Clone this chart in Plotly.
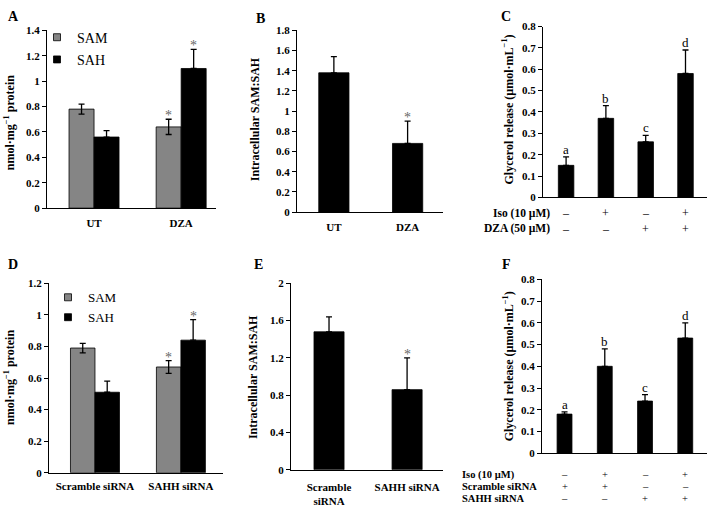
import plotly.graph_objects as go

W, H = 708, 510
SERIF = "Liberation Serif"

# ---------------- data ----------------
a_groups = ["UT", "DZA"]
a_sam = [0.78, 0.64]
a_sam_err = [0.04, 0.06]
a_sah = [0.56, 1.10]
a_sah_err = [0.05, 0.15]
a_star_sam = ["", "*"]
a_star_sah = ["", "*"]

b_groups = ["UT", "DZA"]
b_ratio = [1.38, 0.68]
b_err = [0.16, 0.22]
b_star = ["", "*"]

c_groups = ["g1", "g2", "g3", "g4"]
c_vals = [0.15, 0.37, 0.26, 0.58]
c_err = [0.04, 0.06, 0.03, 0.11]
c_letters = ["a", "b", "c", "d"]
c_iso = ["–", "+", "–", "+"]
c_dza = ["–", "–", "+", "+"]

d_groups = ["Scramble siRNA", "SAHH siRNA"]
d_sam = [0.79, 0.67]
d_sam_err = [0.03, 0.04]
d_sah = [0.51, 0.84]
d_sah_err = [0.07, 0.13]
d_star_sam = ["", "*"]
d_star_sah = ["", "*"]

e_groups = ["Scramble<br>siRNA", "SAHH siRNA"]
e_ratio = [1.48, 0.86]
e_err = [0.16, 0.34]
e_star = ["", "*"]

f_groups = ["g1", "g2", "g3", "g4"]
f_vals = [0.18, 0.40, 0.24, 0.53]
f_err = [0.01, 0.08, 0.03, 0.07]
f_letters = ["a", "b", "c", "d"]
f_iso = ["–", "+", "–", "+"]
f_scr = ["+", "+", "–", "–"]
f_sahh = ["–", "–", "+", "+"]

series_names = ["SAM", "SAH"]

GREY = "#858585"
BLACK = "#000000"

fig = go.Figure()


def px_x(p):
    return p / W


def px_y(p):
    return 1 - p / H


# panel geometry (pixels) -- layout only
panels = {
    1: dict(x0=47, x1=216, yt=25, yb=207, yr=[0, 1.4], dt=0.2, xr=[-0.54, 1.40], so=5),
    2: dict(x0=297, x1=443, yt=25, yb=211, yr=[0, 1.8], dt=0.2, xr=[-0.50, 1.48], so=5),
    3: dict(x0=543, x1=707, yt=21, yb=196, yr=[0, 0.8], dt=0.1, xr=[-0.58, 3.54], so=0),
    4: dict(x0=49, x1=223, yt=284, yb=478, yr=[0, 1.2], dt=0.2, xr=[-0.535, 1.49], so=3),
    5: dict(x0=291, x1=443, yt=284, yb=475, yr=[0, 2.0], dt=0.4, xr=[-0.487, 1.46], so=7),
    6: dict(x0=542, x1=707, yt=280, yb=458, yr=[0, 0.8], dt=0.1, xr=[-0.56, 3.54], so=0),
}

err_style = dict(color="black", thickness=1.3, width=3)
line_style = dict(color="black", width=0.8)


def axes_ids(i):
    return ("x" if i == 1 else f"x{i}"), ("y" if i == 1 else f"y{i}")


def grouped(i, groups, sam, sam_err, sah, sah_err, bw, legend):
    xa, ya = axes_ids(i)
    fig.add_trace(go.Bar(
        x=groups, y=sam, name=series_names[0], marker=dict(color=GREY, line=line_style),
        width=bw, offset=-bw, showlegend=False,
        error_y=dict(type="data", array=sam_err, arrayminus=sam_err, symmetric=False, **err_style),
        xaxis=xa, yaxis=ya))
    fig.add_trace(go.Bar(
        x=groups, y=sah, name=series_names[1], marker=dict(color=BLACK, line=line_style),
        width=bw, offset=0, showlegend=False,
        error_y=dict(type="data", array=sah_err, arrayminus=[0] * len(sah), symmetric=False, **err_style),
        xaxis=xa, yaxis=ya))
    # small square legend keys (legend-only entries)
    for nm, col in zip(series_names, [GREY, BLACK]):
        fig.add_trace(go.Scatter(
            x=[None], y=[None], mode="markers", name=nm,
            marker=dict(symbol="square", size=7, color=col, line=dict(color="black", width=0.8)),
            xaxis=xa, yaxis=ya, legend=legend, legendgroup=f"{nm}{i}", showlegend=True))


def single(i, groups, vals, err, bw):
    xa, ya = axes_ids(i)
    fig.add_trace(go.Bar(
        x=groups, y=vals, marker=dict(color=BLACK, line=line_style), width=bw,
        error_y=dict(type="data", array=err, arrayminus=[0] * len(vals), symmetric=False, **err_style),
        xaxis=xa, yaxis=ya, showlegend=False))


grouped(1, a_groups, a_sam, a_sam_err, a_sah, a_sah_err, 0.287, "legend")
single(2, b_groups, b_ratio, b_err, 0.41)
single(3, c_groups, c_vals, c_err, 0.39)
grouped(4, d_groups, d_sam, d_sam_err, d_sah, d_sah_err, 0.285, "legend2")
single(5, e_groups, e_ratio, e_err, 0.385)
single(6, f_groups, f_vals, f_err, 0.37)

tickfont = dict(family=SERIF, size=11, color="black", weight="bold")
show_x_labels = {1: True, 2: True, 3: False, 4: True, 5: True, 6: False}
for i, p in panels.items():
    sfx = "" if i == 1 else str(i)
    fig.layout[f"xaxis{sfx}"] = dict(
        domain=[px_x(p["x0"]), px_x(p["x1"])], anchor=f"y{sfx}", range=p["xr"],
        showline=True, linecolor="black", linewidth=1, ticks="", showgrid=False,
        showticklabels=show_x_labels[i], tickfont=tickfont, fixedrange=True,
        ticklabelstandoff=p["so"])
    fig.layout[f"yaxis{sfx}"] = dict(
        domain=[px_y(p["yb"]), px_y(p["yt"])], anchor=f"x{sfx}", range=p["yr"], dtick=p["dt"],
        tick0=0, showline=True, linecolor="black", linewidth=1, ticks="outside", ticklen=4,
        tickcolor="black", showgrid=False, zeroline=False, tickfont=tickfont, fixedrange=True)

ann = []


def add_ann(text, x, y, xref="paper", yref="paper", **kw):
    d = dict(text=text, x=x, y=y, xref=xref, yref=yref, showarrow=False,
             xanchor="center", yanchor="middle")
    d.update(kw)
    ann.append(d)


# panel letters
for letter, (lx, ly) in zip("ABCDEF", [(13, 11), (260, 13), (506, 11), (13, 265), (258, 265), (506, 265)]):
    add_ann(letter, px_x(lx), px_y(ly), font=dict(family=SERIF, size=14, color="black", weight="bold"))

# y axis titles
ytitle_font = dict(family=SERIF, size=12, color="black", weight="bold")
add_ann("nmol·mg<sup>−1</sup> protein", px_x(9), px_y(120), textangle=-90, font=ytitle_font)
add_ann("Intracellular SAM:SAH", px_x(255), px_y(116), textangle=-90, font=ytitle_font)
add_ann("Glycerol release (µmol·mL<sup>−1</sup>)", px_x(508), px_y(106), textangle=-90, font=ytitle_font)
add_ann("nmol·mg<sup>−1</sup> protein", px_x(9), px_y(381), textangle=-90, font=ytitle_font)
add_ann("Intracellular SAM:SAH", px_x(253), px_y(380), textangle=-90, font=ytitle_font)
add_ann("Glycerol release (µmol·mL<sup>−1</sup>)", px_x(508), px_y(369), textangle=-90, font=ytitle_font)

star_font = dict(family=SERIF, size=14, color="#666666")
letter_font = dict(family=SERIF, size=13, color="black")


def stars(xref, yref, groups, vals, errs, marks, shift):
    for g, v, e, m in zip(groups, vals, errs, marks):
        if m:
            add_ann(m, g, v + e, xref=xref, yref=yref, yanchor="bottom", xshift=shift, yshift=-6,
                    font=star_font)


stars("x", "y", a_groups, a_sam, a_sam_err, a_star_sam, -12.5)
stars("x", "y", a_groups, a_sah, a_sah_err, a_star_sah, 12.5)
stars("x2", "y2", b_groups, b_ratio, b_err, b_star, 0)
stars("x4", "y4", d_groups, d_sam, d_sam_err, d_star_sam, -12.5)
stars("x4", "y4", d_groups, d_sah, d_sah_err, d_star_sah, 12.5)
stars("x5", "y5", e_groups, e_ratio, e_err, e_star, 0)

for g, v, e, m in zip(c_groups, c_vals, c_err, c_letters):
    add_ann(m, g, v + e, xref="x3", yref="y3", yanchor="bottom", yshift=-2, font=letter_font)
for g, v, e, m in zip(f_groups, f_vals, f_err, f_letters):
    add_ann(m, g, v + e, xref="x6", yref="y6", yanchor="bottom", yshift=-2, font=letter_font)

# treatment rows
row_font = dict(family=SERIF, size=11.5, color="black", weight="bold")
sym_font = dict(family=SERIF, size=12, color="black")
for label, syms, py in [("Iso (10 µM)", c_iso, 212), ("DZA (50 µM)", c_dza, 228)]:
    add_ann(label, px_x(552), px_y(py), xanchor="right", font=row_font)
    for g, s in zip(c_groups, syms):
        add_ann(s, g, px_y(py), xref="x3", font=sym_font)

row_font_f = dict(family=SERIF, size=10.5, color="black", weight="bold")
sym_font_f = dict(family=SERIF, size=10.5, color="black")
for label, syms, py in [("Iso (10 µM)", f_iso, 480), ("Scramble siRNA", f_scr, 492), ("SAHH siRNA", f_sahh, 504)]:
    add_ann(label, px_x(461), px_y(py), xanchor="left", font=row_font_f, borderpad=0)
    for g, s in zip(f_groups, syms):
        add_ann(s, g, px_y(py), xref="x6", font=sym_font_f, borderpad=0)

fig.update_layout(
    width=W, height=H, margin=dict(l=0, r=0, t=0, b=0),
    paper_bgcolor="white", plot_bgcolor="white",
    barmode="overlay",
    annotations=ann,
    legend=dict(x=px_x(37), y=px_y(16), xanchor="left", yanchor="top",
                font=dict(family=SERIF, size=14, color="black"),
                bgcolor="rgba(0,0,0,0)", itemwidth=30, tracegroupgap=1, traceorder="grouped"),
    legend2=dict(x=px_x(48), y=px_y(283), xanchor="left", yanchor="top",
                 font=dict(family=SERIF, size=13, color="black"),
                 bgcolor="rgba(0,0,0,0)", itemwidth=30, tracegroupgap=0, traceorder="grouped"),
)

fig.write_html("out.html", config={"displayModeBar": False},
               post_script="document.body.style.margin='0px';")
